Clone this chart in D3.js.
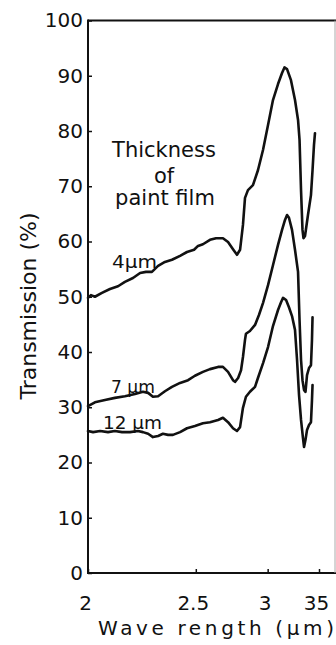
<!DOCTYPE html>
<html>
<head>
<meta charset="utf-8">
<script src="https://cdn.jsdelivr.net/npm/d3@7/dist/d3.min.js"></script>
<style>
  html, body { margin: 0; padding: 0; background: #fff; }
  svg { display: block; }
  text { font-family: "DejaVu Sans", "Liberation Sans", sans-serif; fill: #111; }
</style>
</head>
<body>
<svg id="chart" width="336" height="645"></svg>
<script>
// Infrared transmission spectra of paint films of three thicknesses.
// Wavelength in micrometres, transmission in percent.

const wl4 = [2.000, 2.011, 2.026, 2.053, 2.085, 2.118, 2.147, 2.182, 2.214, 2.241, 2.269, 2.299, 2.333, 2.369, 2.412, 2.450, 2.490, 2.513, 2.542, 2.585, 2.623, 2.668, 2.702, 2.736, 2.764, 2.786, 2.807, 2.822, 2.844, 2.882, 2.921, 2.962, 3.003, 3.045, 3.089, 3.125, 3.147, 3.171, 3.208, 3.247, 3.277, 3.292, 3.307, 3.322, 3.332, 3.348, 3.379, 3.411, 3.428, 3.444, 3.455];
const t4  = [49.8, 50.3, 50.0, 50.7, 51.4, 51.9, 52.7, 53.4, 54.3, 54.5, 54.5, 55.6, 56.3, 56.7, 57.4, 58.1, 58.5, 59.2, 59.5, 60.3, 60.6, 60.6, 59.9, 58.6, 57.6, 58.5, 63.0, 67.9, 69.3, 70.2, 72.9, 76.6, 81.1, 85.6, 88.5, 90.5, 91.5, 91.2, 89.2, 85.6, 82.0, 78.4, 69.3, 62.1, 60.6, 61.0, 64.8, 68.4, 72.9, 77.5, 79.6];

const wl7 = [2.000, 2.026, 2.065, 2.105, 2.147, 2.191, 2.227, 2.251, 2.274, 2.299, 2.333, 2.369, 2.412, 2.456, 2.495, 2.542, 2.585, 2.636, 2.668, 2.702, 2.736, 2.750, 2.772, 2.793, 2.807, 2.822, 2.829, 2.859, 2.898, 2.929, 2.962, 3.003, 3.045, 3.089, 3.125, 3.152, 3.171, 3.189, 3.218, 3.247, 3.277, 3.292, 3.307, 3.322, 3.338, 3.353, 3.369, 3.390, 3.411, 3.422, 3.428];
const t7  = [30.2, 30.9, 31.3, 31.7, 32.0, 32.4, 32.8, 32.6, 31.9, 32.0, 32.9, 33.7, 34.4, 34.9, 35.7, 36.4, 36.9, 37.3, 37.3, 36.4, 34.9, 34.6, 35.3, 36.7, 39.1, 42.2, 43.3, 43.8, 44.9, 46.7, 48.9, 52.1, 55.7, 59.4, 62.1, 63.9, 64.8, 64.3, 62.1, 58.5, 54.5, 45.8, 38.6, 34.9, 33.1, 32.8, 35.8, 37.1, 37.6, 42.2, 46.3];

const wl12 = [2.000, 2.019, 2.046, 2.077, 2.105, 2.135, 2.169, 2.204, 2.227, 2.251, 2.274, 2.299, 2.323, 2.349, 2.374, 2.412, 2.450, 2.495, 2.542, 2.585, 2.636, 2.668, 2.702, 2.736, 2.764, 2.786, 2.807, 2.829, 2.859, 2.898, 2.921, 2.962, 3.003, 3.045, 3.089, 3.116, 3.134, 3.162, 3.189, 3.218, 3.247, 3.267, 3.287, 3.307, 3.327, 3.338, 3.353, 3.369, 3.390, 3.411, 3.422, 3.428];
const t12  = [25.7, 25.5, 25.7, 25.5, 25.7, 25.5, 25.5, 25.7, 25.5, 25.2, 24.6, 24.8, 25.2, 25.0, 25.0, 25.5, 26.2, 26.6, 27.1, 27.3, 27.7, 28.1, 27.3, 26.2, 25.7, 26.4, 29.9, 31.9, 32.8, 33.7, 35.3, 38.0, 40.9, 44.7, 47.6, 49.0, 49.8, 49.4, 48.1, 46.5, 44.0, 38.6, 32.2, 27.7, 24.4, 22.8, 24.1, 25.9, 26.8, 27.3, 31.3, 34.0];

const xTickWavelengths = [2, 2.5, 3, 3.5];
const xTickLabels = ["2", "2.5", "3", "35"];
const yTicks = [0, 10, 20, 30, 40, 50, 60, 70, 80, 90, 100];

const seriesLabels = ["4µm", "7 µm", "12 µm"];

const svg = d3.select("#chart");

// Plot frame
const plotLeft = 88, plotRight = 335, plotTop = 20.5, plotBottom = 573;

// The wavelength axis is linear in wavenumber (1/λ)
const x = d3.scaleLinear().domain([1 / 2, 1 / 3.5]).range([plotLeft, 319]);
const y = d3.scaleLinear().domain([0, 100]).range([plotBottom, plotTop]);
const px = wl => x(1 / wl);

// Frame lines
svg.append("line").attr("x1", plotLeft).attr("x2", 336).attr("y1", plotTop).attr("y2", plotTop)
  .attr("stroke", "#111").attr("stroke-width", 2);
svg.append("line").attr("x1", plotLeft).attr("x2", plotLeft).attr("y1", plotTop - 1).attr("y2", plotBottom + 1)
  .attr("stroke", "#111").attr("stroke-width", 2);
svg.append("line").attr("x1", plotLeft).attr("x2", 336).attr("y1", plotBottom).attr("y2", plotBottom)
  .attr("stroke", "#111").attr("stroke-width", 2);
svg.append("line").attr("x1", plotRight).attr("x2", plotRight).attr("y1", plotTop).attr("y2", plotBottom)
  .attr("stroke", "#aaa").attr("stroke-width", 1);

// Y axis
const yAxis = d3.axisLeft(y).tickValues(yTicks).tickSize(-4).tickPadding(5)
  .tickFormat(d => String(d));
const gy = svg.append("g").attr("transform", `translate(${plotLeft},0)`).call(yAxis);
gy.select(".domain").remove();
gy.selectAll(".tick line").attr("stroke", "#111").attr("stroke-width", 1.5);
gy.selectAll(".tick text").attr("font-size", 20)
  .attr("font-family", "DejaVu Sans, sans-serif").attr("fill", "#111");

// X axis
const xAxis = d3.axisBottom(x).tickValues(xTickWavelengths.map(w => 1 / w))
  .tickSize(-4).tickPadding(23)
  .tickFormat((d, i) => xTickLabels[i]);
const gx = svg.append("g").attr("transform", `translate(0,${plotBottom})`).call(xAxis);
gx.select(".domain").remove();
gx.selectAll(".tick line").attr("stroke", "#111").attr("stroke-width", 1.5);
gx.selectAll(".tick text").attr("font-size", 20).attr("dx", -3)
  .attr("font-family", "DejaVu Sans, sans-serif").attr("fill", "#111");

// Axis titles
svg.append("text")
  .attr("transform", "translate(36,306) rotate(-90)")
  .attr("text-anchor", "middle")
  .attr("font-size", 21)
  .attr("textLength", 187).attr("lengthAdjust", "spacingAndGlyphs")
  .text("Transmission (%)");

svg.append("text")
  .attr("x", 98).attr("y", 635)
  .attr("font-size", 20)
  .attr("textLength", 236).attr("lengthAdjust", "spacing")
  .text("Wave rength (µm)");

// Spectra
const line = d3.line().x(d => px(d[0])).y(d => y(d[1])).curve(d3.curveLinear);
const series = [[wl4, t4], [wl7, t7], [wl12, t12]];
series.forEach(([w, t]) => {
  svg.append("path")
    .datum(w.map((v, i) => [v, t[i]]))
    .attr("d", line)
    .attr("fill", "none")
    .attr("stroke", "#111")
    .attr("stroke-width", 2.6)
    .attr("stroke-linejoin", "round")
    .attr("stroke-linecap", "round");
});

// Legend block
const legend = [["Thickness", 164, 157], ["of", 164, 183], ["paint film", 165, 205]];
legend.forEach(([s, cx, by]) => {
  svg.append("text").attr("x", cx).attr("y", by).attr("text-anchor", "middle")
    .attr("font-size", 21).text(s);
});

// Thickness labels on the curves
const labelPos = [[112, 268, 45], [111, 393, 44], [103, 429, 59]];
seriesLabels.forEach((s, i) => {
  const [lx, ly, len] = labelPos[i];
  svg.append("text").attr("x", lx).attr("y", ly)
    .attr("font-size", 17)
    .attr("textLength", len).attr("lengthAdjust", "spacingAndGlyphs")
    .text(s);
});
</script>
</body>
</html>
